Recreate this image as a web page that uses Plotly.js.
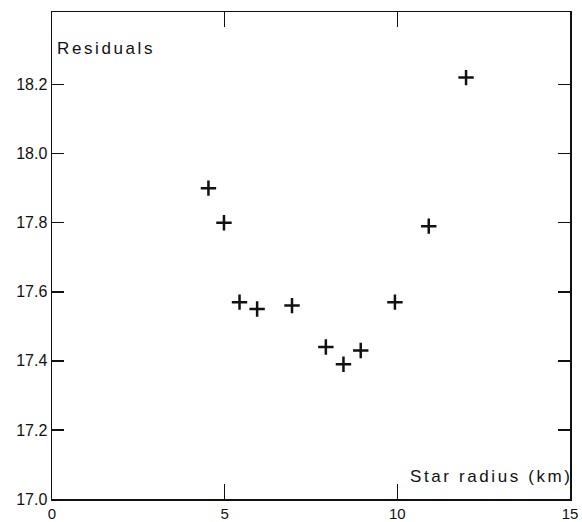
<!DOCTYPE html>
<html>
<head>
<meta charset="utf-8">
<script src="https://cdn.plot.ly/plotly-3.0.1.min.js"></script>
<style>
  html, body { margin: 0; padding: 0; background: #fff; }
  #chart { width: 582px; height: 522px; }
  .annotation-text { letter-spacing: 2.6px; }
</style>
</head>
<body>
<div id="chart"></div>
<script>
// Star radius (km)
var starRadius = [4.53, 4.98, 5.43, 5.94, 6.95, 7.93, 8.44, 8.94, 9.93, 10.91, 11.99];
// Residuals
var residuals = [17.90, 17.80, 17.57, 17.55, 17.56, 17.44, 17.39, 17.43, 17.57, 17.79, 18.22];

var xTickVals = [0, 5, 10, 15];
var xTickText = ['0', '5', '10', '15'];
var yTickVals = [17.0, 17.2, 17.4, 17.6, 17.8, 18.0, 18.2];
var yTickText = ['17.0', '17.2', '17.4', '17.6', '17.8', '18.0', '18.2'];

var fontFam = '"Liberation Sans", Arial, sans-serif';

var trace = {
  x: starRadius,
  y: residuals,
  mode: 'markers',
  type: 'scatter',
  marker: {
    symbol: 'cross-thin',
    size: 11,
    color: '#111',
    line: { width: 2.5, color: '#111' }
  },
  hoverinfo: 'skip'
};

var layout = {
  width: 582,
  height: 522,
  margin: { l: 52, r: 12, t: 12, b: 23, pad: 0 },
  paper_bgcolor: '#fff',
  plot_bgcolor: '#fff',
  showlegend: false,
  font: { family: fontFam, size: 16, color: '#111' },
  xaxis: {
    range: [0, 15],
    tickmode: 'array',
    tickvals: xTickVals,
    ticktext: xTickText,
    ticks: 'inside',
    ticklen: 15,
    tickwidth: 1.5,
    tickcolor: '#111',
    showline: true,
    linewidth: 1.5,
    linecolor: '#111',
    mirror: 'ticks',
    showgrid: false,
    zeroline: false,
    ticklabelstandoff: 0,
    tickfont: { family: fontFam, size: 15, color: '#111' }
  },
  yaxis: {
    range: [17.0, 18.41],
    tickmode: 'array',
    tickvals: yTickVals,
    ticktext: yTickText,
    ticks: 'inside',
    ticklen: 12,
    tickwidth: 1.5,
    tickcolor: '#111',
    showline: true,
    linewidth: 1.5,
    linecolor: '#111',
    mirror: 'ticks',
    showgrid: false,
    zeroline: false,
    ticklabelstandoff: 0,
    tickfont: { family: fontFam, size: 16, color: '#111' }
  },
  annotations: [
    {
      text: 'Residuals',
      xref: 'paper', yref: 'paper',
      x: 0.006, y: 0.926,
      xanchor: 'left', yanchor: 'middle',
      showarrow: false,
      font: { family: fontFam, size: 17, color: '#111' }
    },
    {
      text: 'Star radius (km)',
      xref: 'paper', yref: 'paper',
      x: 0.688, y: 0.047,
      xanchor: 'left', yanchor: 'middle',
      showarrow: false,
      font: { family: fontFam, size: 17, color: '#111' }
    }
  ]
};

Plotly.newPlot('chart', [trace], layout, { staticPlot: true, displayModeBar: false });
</script>
</body>
</html>
